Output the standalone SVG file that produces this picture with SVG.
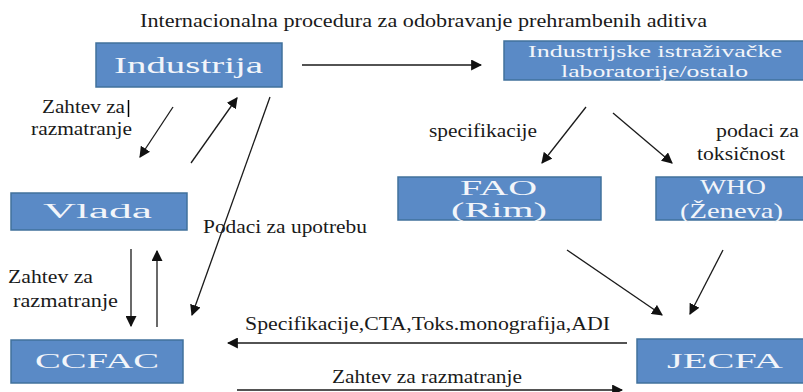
<svg xmlns="http://www.w3.org/2000/svg" width="803" height="392" viewBox="0 0 803 392" font-family="Liberation Serif, Times New Roman, serif">
<defs>
<marker id="ah" viewBox="0 0 10 10" refX="9" refY="5" markerWidth="11" markerHeight="11" markerUnits="userSpaceOnUse" orient="auto">
<path d="M0,0 L10,5 L0,10 z" fill="#111"/>
</marker>
<style>
.box{fill:#5A8AC6;stroke:#41719C;stroke-width:1.5}
.bt{fill:#F2F5FA}
.lb{fill:#1a1a1a;font-size:18px}
.cn{stroke:#1a1a1a;stroke-width:1.3;fill:none;marker-end:url(#ah)}
</style>
</defs>
<rect width="803" height="392" fill="#fff"/>
<text class="lb" x="140" y="27" textLength="567" lengthAdjust="spacingAndGlyphs">Internacionalna procedura za odobravanje prehrambenih aditiva</text>

<g id="industrija">
<rect class="box" x="96" y="43" width="186" height="44"/>
<text class="bt" x="114" y="73" font-size="23" textLength="149" lengthAdjust="spacingAndGlyphs">Industrija</text>
</g>
<g id="lab">
<rect class="box" x="504" y="41" width="305" height="39"/>
<text class="bt" x="528" y="57" font-size="17" textLength="254" lengthAdjust="spacingAndGlyphs">Industrijske  istraživačke</text>
<text class="bt" x="561" y="77" font-size="17" textLength="187" lengthAdjust="spacingAndGlyphs">laboratorije/ostalo</text>
</g>
<g id="fao">
<rect class="box" x="398" y="177" width="203" height="43"/>
<text class="bt" x="460" y="195" font-size="21" textLength="77" lengthAdjust="spacingAndGlyphs">FAO</text>
<text class="bt" x="451" y="217" font-size="21" textLength="96" lengthAdjust="spacingAndGlyphs">(Rim)</text>
</g>
<g id="who">
<rect class="box" x="656" y="177" width="153" height="43"/>
<text class="bt" x="700" y="194" font-size="21" textLength="66" lengthAdjust="spacingAndGlyphs">WHO</text>
<text class="bt" x="680" y="218" font-size="21" textLength="103" lengthAdjust="spacingAndGlyphs">(Ženeva)</text>
</g>
<g id="vlada">
<rect class="box" x="11" y="193" width="176" height="37"/>
<text class="bt" x="43" y="218" font-size="20" textLength="109" lengthAdjust="spacingAndGlyphs">Vlada</text>
</g>
<g id="ccfac">
<rect class="box" x="11" y="340" width="172" height="43"/>
<text class="bt" x="35" y="368" font-size="20" textLength="124" lengthAdjust="spacingAndGlyphs">CCFAC</text>
</g>
<g id="jecfa">
<rect class="box" x="637" y="339" width="172" height="44"/>
<text class="bt" x="667" y="368" font-size="20" textLength="116" lengthAdjust="spacingAndGlyphs">JECFA</text>
</g>

<g id="connectors">
<line class="cn" x1="302" y1="65" x2="481" y2="65"/>
<line class="cn" x1="586" y1="107" x2="542" y2="163"/>
<line class="cn" x1="613" y1="113" x2="672" y2="163"/>
<line class="cn" x1="173" y1="107" x2="140" y2="157"/>
<line class="cn" x1="191" y1="163" x2="237" y2="98"/>
<line class="cn" x1="270" y1="97" x2="192" y2="315"/>
<line class="cn" x1="131" y1="249" x2="131" y2="326"/>
<line class="cn" x1="157" y1="327" x2="157" y2="251"/>
<line class="cn" x1="567" y1="250" x2="662" y2="315"/>
<line class="cn" x1="723" y1="250" x2="690" y2="314"/>
<line class="cn" x1="627" y1="343" x2="228" y2="343"/>
<line class="cn" x1="237" y1="390" x2="622" y2="390"/>
</g>

<text class="lb" x="42" y="113" textLength="83" lengthAdjust="spacingAndGlyphs">Zahtev za</text>
<line x1="128.5" y1="100" x2="128.5" y2="117" stroke="#000" stroke-width="1.5"/>
<text class="lb" x="31" y="135" textLength="101" lengthAdjust="spacingAndGlyphs">razmatranje</text>
<text class="lb" x="429" y="137" textLength="108" lengthAdjust="spacingAndGlyphs">specifikacije</text>
<text class="lb" x="716" y="137" textLength="83" lengthAdjust="spacingAndGlyphs">podaci za</text>
<text class="lb" x="697" y="160" textLength="88" lengthAdjust="spacingAndGlyphs">toksičnost</text>
<text class="lb" x="203" y="233" textLength="164" lengthAdjust="spacingAndGlyphs">Podaci za upotrebu</text>
<text class="lb" x="8" y="283" textLength="85" lengthAdjust="spacingAndGlyphs">Zahtev za</text>
<text class="lb" x="13" y="307" textLength="105" lengthAdjust="spacingAndGlyphs">razmatranje</text>
<text class="lb" x="245" y="330" textLength="365" lengthAdjust="spacingAndGlyphs">Specifikacije,CTA,Toks.monografija,ADI</text>
<text class="lb" x="332" y="383" textLength="190" lengthAdjust="spacingAndGlyphs">Zahtev za razmatranje</text>
</svg>
